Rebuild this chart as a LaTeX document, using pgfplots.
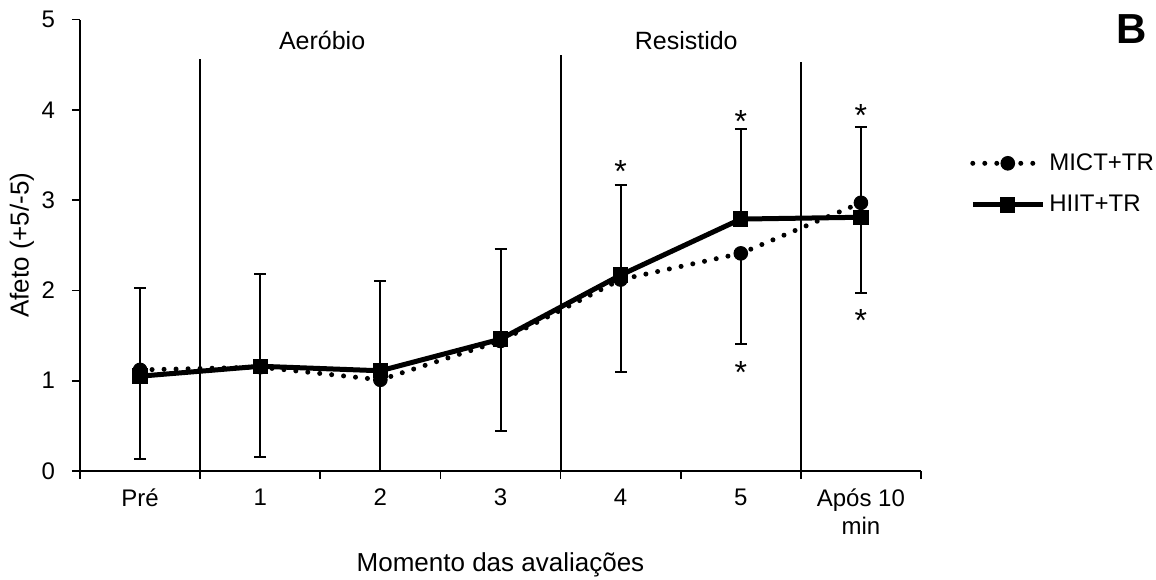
\documentclass[border=0pt]{standalone}
\usepackage{pgfplots}
\pgfplotsset{compat=1.18}
\usepackage{fontspec}
\setmainfont{Liberation Sans}
\begin{document}
\begin{tikzpicture}[x=1pt,y=1pt]
\path[use as bounding box] (-40,-54) rectangle (538,235.5);
\begin{axis}[
  at={(0,0)}, anchor=south west,
  scale only axis, width=420.5pt, height=225.75pt,
  xmin=-0.5, xmax=6.5, ymin=0, ymax=5,
  axis x line=bottom, axis y line=left,
  axis line style={-, line width=0.9pt, black},
  xtick={-0.5,0.5,1.5,2.5,3.5,4.5,5.5,6.5},
  x tick label as interval,
  xticklabels={Pré,1,2,3,4,5,{Após 10\\min}},
  xticklabel style={align=center, font=\fontsize{12}{14}\selectfont, yshift=-1.5pt},
  ytick={0,1,2,3,4,5},
  yticklabel style={font=\fontsize{12}{14}\selectfont, xshift=-5pt},
  /pgf/number format/assume math mode=true,
  tick align=outside, major tick length=4pt,
  tick style={black, line width=0.9pt},
  xlabel={Momento das avaliações}, ylabel={Afeto (+5/-5)},
  label style={font=\fontsize{13}{15}\selectfont},
  xlabel style={at={(axis description cs:0.5,-0.208)}, anchor=center},
  ylabel style={at={(axis description cs:-0.069,0.5)}, anchor=center},
  clip=false,
  legend style={at={(axis description cs:1.051,0.722)}, anchor=north west,
    draw=none, fill=none, font=\fontsize{12}{14}\selectfont, row sep=7pt},
  legend cell align=left,
  legend image code/.code={\draw[mark repeat=2,mark phase=2,#1] plot coordinates {(0pt,0pt) (17.5pt,0pt) (35pt,0pt)};},
]
% separators
\addplot[black, line width=1pt, forget plot] coordinates {(0.5,0) (0.5,4.56)};
\addplot[black, line width=1pt, forget plot] coordinates {(3.5,0) (3.5,4.61)};
\addplot[black, line width=1pt, forget plot] coordinates {(5.5,0) (5.5,4.53)};

% MICT+TR (minus error bars)
\addplot[black, line width=2.5pt, dash pattern=on 0pt off 6pt, line cap=round,
  mark=*, mark size=3.4pt, mark options={solid, line width=0.5pt},
  error bars/.cd, y dir=minus, y explicit,
  error bar style={solid, line width=1pt, line cap=butt},
  error mark options={rotate=90, black, solid, mark size=3pt, line width=1pt}]
  coordinates {
  (0,1.12) -= (0,0.99)
  (1,1.15) -= (0,1.00)
  (2,1.01) -= (0,1.01)
  (3,1.44) -= (0,1.00)
  (4,2.12) -= (0,1.02)
  (5,2.41) -= (0,1.00)
  (6,2.97) -= (0,1.00)
  };
\addlegendentry{MICT+TR}

% HIIT+TR (plus error bars)
\addplot[black, line width=2.5pt, solid,
  mark=square*, mark size=3.6pt, mark options={solid, line width=0.5pt},
  error bars/.cd, y dir=plus, y explicit,
  error bar style={solid, line width=1pt, line cap=butt},
  error mark options={rotate=90, black, solid, mark size=3pt, line width=1pt}]
  coordinates {
  (0,1.05) += (0,0.98)
  (1,1.16) += (0,1.02)
  (2,1.11) += (0,0.99)
  (3,1.46) += (0,1.00)
  (4,2.17) += (0,1.00)
  (5,2.79) += (0,1.00)
  (6,2.81) += (0,1.00)
  };
\addlegendentry{HIIT+TR}

% annotations
\node[anchor=base, font=\fontsize{12.5}{15}\selectfont] at (axis cs:1.515,4.67) {Aeróbio};
\node[anchor=base, font=\fontsize{12.5}{15}\selectfont] at (axis cs:4.546,4.67) {Resistido};
\node[anchor=base, font=\fontsize{21}{25}\selectfont\bfseries] at (axis cs:8.256,4.736) {B};
\node[anchor=base, font=\fontsize{16}{18}\selectfont] at (axis cs:4,3.19) {*};
\node[anchor=base, font=\fontsize{16}{18}\selectfont] at (axis cs:5,3.75) {*};
\node[anchor=base, font=\fontsize{16}{18}\selectfont] at (axis cs:5,0.97) {*};
\node[anchor=base, font=\fontsize{16}{18}\selectfont] at (axis cs:6,3.81) {*};
\node[anchor=base, font=\fontsize{16}{18}\selectfont] at (axis cs:6,1.54) {*};
\end{axis}
\end{tikzpicture}
\end{document}
